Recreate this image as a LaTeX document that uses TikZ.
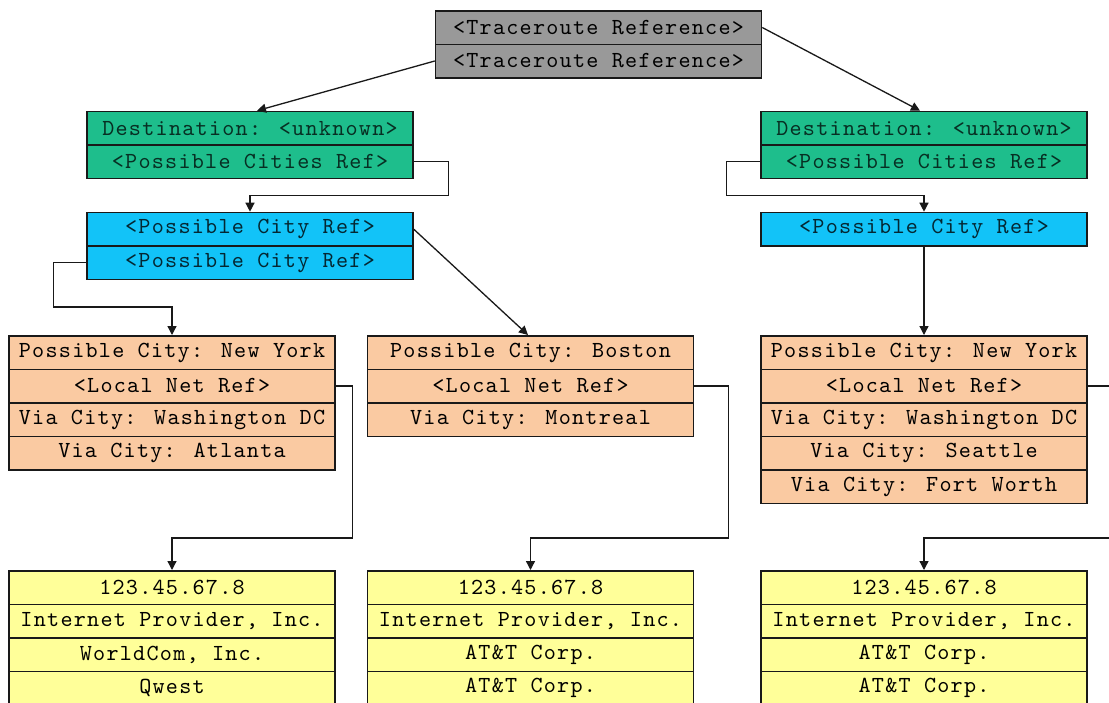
\documentclass[tikz,border=0pt]{standalone}
\usepackage{fontspec}
\newfontfamily\boxfont{lmmono10-regular.otf}[LetterSpace=5.5]
\usetikzlibrary{arrows.meta}

\definecolor{refgray}{RGB}{153,153,153}
\definecolor{destgreen}{RGB}{30,190,140}
\definecolor{cityblue}{RGB}{18,195,248}
\definecolor{citypeach}{RGB}{250,202,162}
\definecolor{netyellow}{RGB}{255,255,153}
\definecolor{edge}{RGB}{25,25,25}

\tikzset{
  cell/.style={draw=edge, line width=1.5pt, minimum width=326pt, minimum height=33.5pt,
    inner sep=0pt, anchor=north, font=\boxfont\fontsize{23}{27}\selectfont},
  refcell/.style={cell, fill=refgray, text=black},
  destcell/.style={cell, fill=destgreen, text=destgreen!25!black},
  citycell/.style={cell, fill=cityblue, text=cityblue!20!black},
  placecell/.style={cell, fill=citypeach, text=black},
  netcell/.style={cell, fill=netyellow, text=black},
  link/.style={draw=edge, line width=1.3pt, -{Triangle[length=9pt,width=9pt]}}
}

\begin{document}
\begin{tikzpicture}[x=1pt, y=-1pt]
\useasboundingbox (0,0) rectangle (1109,702);
\fill[white] (0,0) rectangle (1109,702);
\clip (0,0) rectangle (1109,702);

% traceroute reference
\node[refcell] (t1) at (598.5,10)   {<Traceroute Reference>};
\node[refcell] (t2) at (598.5,43.5) {<Traceroute Reference>};

% destinations
\node[destcell] (gL1) at (250,110.7) {Destination: <unknown>};
\node[destcell] (gL2) at (250,144.2) {<Possible Cities Ref>};
\node[destcell] (gR1) at (924,110.7) {Destination: <unknown>};
\node[destcell] (gR2) at (924,144.2) {<Possible Cities Ref>};

% possible city references
\node[citycell] (bL1) at (250,211.7) {<Possible City Ref>};
\node[citycell] (bL2) at (250,245.2) {<Possible City Ref>};
\node[citycell] (bR1) at (924,211.7) {<Possible City Ref>};

% possible cities
\node[placecell] (oL1) at (172,335)   {Possible City: New York};
\node[placecell] (oL2) at (172,368.5) {<Local Net Ref>};
\node[placecell] (oL3) at (172,402)   {Via City: Washington DC};
\node[placecell] (oL4) at (172,435.5) {Via City: Atlanta};

\node[placecell] (oM1) at (530.5,335)   {Possible City: Boston};
\node[placecell] (oM2) at (530.5,368.5) {<Local Net Ref>};
\node[placecell] (oM3) at (530.5,402)   {Via City: Montreal};

\node[placecell] (oR1) at (924,335)   {Possible City: New York};
\node[placecell] (oR2) at (924,368.5) {<Local Net Ref>};
\node[placecell] (oR3) at (924,402)   {Via City: Washington DC};
\node[placecell] (oR4) at (924,435.5) {Via City: Seattle};
\node[placecell] (oR5) at (924,469)   {Via City: Fort Worth};

% local networks
\node[netcell] (yL1) at (172,570)   {123.45.67.8};
\node[netcell] (yL2) at (172,603.5) {Internet Provider, Inc.};
\node[netcell] (yL3) at (172,637)   {WorldCom, Inc.};
\node[netcell] (yL4) at (172,670.5) {Qwest};

\node[netcell] (yM1) at (530.5,570)   {123.45.67.8};
\node[netcell] (yM2) at (530.5,603.5) {Internet Provider, Inc.};
\node[netcell] (yM3) at (530.5,637)   {AT\&T Corp.};
\node[netcell] (yM4) at (530.5,670.5) {AT\&T Corp.};

\node[netcell] (yR1) at (924,570)   {123.45.67.8};
\node[netcell] (yR2) at (924,603.5) {Internet Provider, Inc.};
\node[netcell] (yR3) at (924,637)   {AT\&T Corp.};
\node[netcell] (yR4) at (924,670.5) {AT\&T Corp.};

% connectors
\draw[link] (t2.west) -- ([xshift=7pt]gL1.north);
\draw[link] (t1.east) -- ([xshift=-4pt]gR1.north);

\draw[link] (gL2.east) -- ++(34.5,0) -- ++(0,34) -| (bL1.north);
\draw[link] (gR2.west) -- ++(-33.5,0) -- ++(0,34) -| (bR1.north);

\draw[link] (bL2.west) -- ++(-33,0) -- ++(0,44.4) -| (oL1.north);
\draw[link] (bL1.east) -- ([xshift=-2.5pt]oM1.north);
\draw[link] (bR1.south) -- (oR1.north);

\draw[link] (oL2.east) -- ++(16.5,0) -- ++(0,152) -| (yL1.north);
\draw[link] (oM2.east) -- ++(34,0) -- ++(0,152) -| (yM1.north);
\draw[link] (oR2.east) -- ++(40,0) -- ++(0,152) -| (yR1.north);
\end{tikzpicture}
\end{document}
